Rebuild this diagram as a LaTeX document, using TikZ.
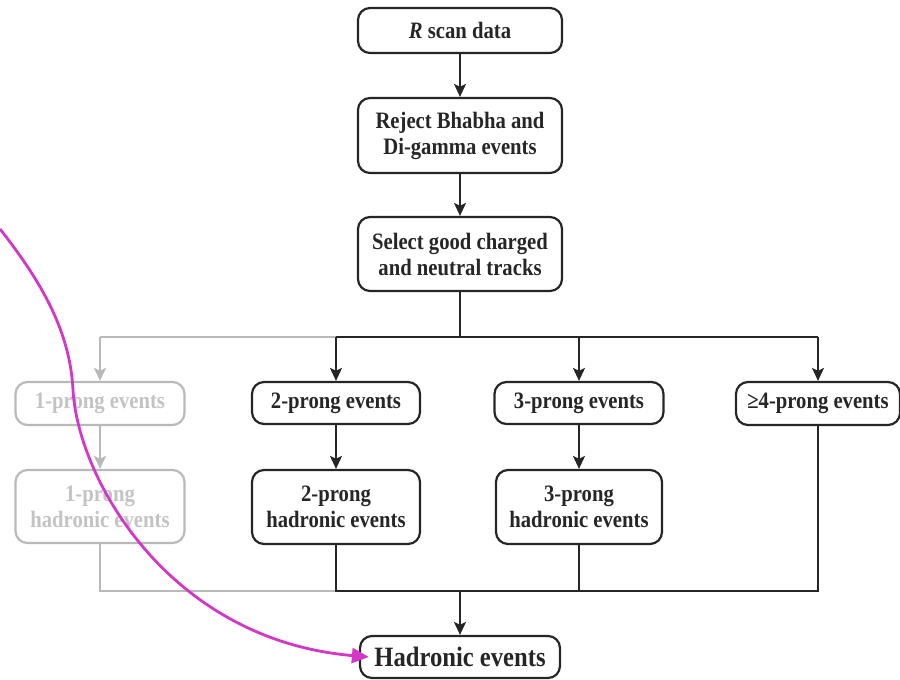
\documentclass[tikz,border=0pt]{standalone}
\usepackage{fontspec}
\setmainfont[FakeStretch=0.88]{Liberation Serif}
\usetikzlibrary{arrows.meta,calc}
\definecolor{ink}{RGB}{38,38,38}
\definecolor{pale}{RGB}{185,185,185}
\definecolor{paletext}{RGB}{195,195,195}
\definecolor{mag}{RGB}{212,55,200}
\tikzset{
  box/.style={draw=ink, line width=2.2pt, rounded corners=12pt, align=center,
    text=ink, font=\bfseries\fontsize{23.5}{26}\selectfont, inner sep=0pt},
  graybox/.style={box, draw=pale, text=paletext},
  link/.style={draw=ink, line width=2.2pt},
  graylink/.style={draw=pale, line width=2.2pt},
  arr/.style={link, -{Stealth[length=13pt,width=12pt,inset=3pt]}},
  grayarr/.style={graylink, -{Stealth[length=13pt,width=12pt,inset=3pt]}},
  magarr/.style={draw=mag, line width=2.8pt, -{Triangle[length=17pt,width=15pt]}}
}
\begin{document}
\begin{tikzpicture}[x=1pt,y=-1pt]
\useasboundingbox (0,0) rectangle (900,680);
% main column
\node[box, minimum width=204pt, minimum height=45pt] (scan) at (460,30.5) {\textit{R} scan data};
\node[box, minimum width=204pt, minimum height=75pt] (reject) at (460,135.5) {Reject Bhabha and\\Di-gamma events};
\node[box, minimum width=204pt, minimum height=74pt] (select) at (460,254) {Select good charged\\and neutral tracks};
% prong row
\node[graybox, minimum width=169pt, minimum height=43pt] (p1) at (100,403.5) {1-prong events};
\node[box, minimum width=168pt, minimum height=42pt] (p2) at (336,403) {2-prong events};
\node[box, minimum width=169pt, minimum height=42pt] (p3) at (579,403) {3-prong events};
\node[box, minimum width=164pt, minimum height=43pt] (p4) at (818,403.5) {≥4-prong events};
% hadronic row
\node[graybox, minimum width=169pt, minimum height=73pt] (h1) at (100,506.5) {1-prong\\hadronic events};
\node[box, minimum width=168pt, minimum height=74pt] (h2) at (336,507) {2-prong\\hadronic events};
\node[box, minimum width=166pt, minimum height=74pt] (h3) at (579,507) {3-prong\\hadronic events};
% result
\node[box, minimum width=200pt, minimum height=42pt, font=\bfseries\fontsize{28}{30}\selectfont] (hadr) at (460,657) {Hadronic events};
% buses
\coordinate (busT) at (460,337);
\coordinate (busB) at (460,591);
\coordinate (curvestart) at (0,229);
% top connectors
\draw[arr] (scan.south) -- (reject.north);
\draw[arr] (reject.south) -- (select.north);
\draw[link] (select.south) -- (busT);
\draw[graylink] (p1.north |- busT) -- (p2.north |- busT);
\draw[link] (p2.north |- busT) -- (p4.north |- busT);
\draw[grayarr] (p1.north |- busT) -- (p1.north);
\draw[arr] (p2.north |- busT) -- (p2.north);
\draw[arr] (p3.north |- busT) -- (p3.north);
\draw[arr] (p4.north |- busT) -- (p4.north);
% middle connectors
\draw[grayarr] (p1.south) -- (h1.north);
\draw[arr] (p2.south) -- (h2.north);
\draw[arr] (p3.south) -- (h3.north);
% bottom connectors
\draw[graylink] (h1.south) -- (h1.south |- busB) -- (h2.south |- busB);
\draw[link] (h2.south) -- (h2.south |- busB) -- (p4.south |- busB) -- (p4.south);
\draw[link] (h3.south) -- (h3.south |- busB);
\draw[arr] (busB) -- (hadr.north);
% magenta curve
\draw[magarr] (curvestart) .. controls (40,280) and (70,330) .. (73,390)
  .. controls (78,480) and (170,640) .. ($(hadr.west)+(10,0)$);
\end{tikzpicture}
\end{document}
